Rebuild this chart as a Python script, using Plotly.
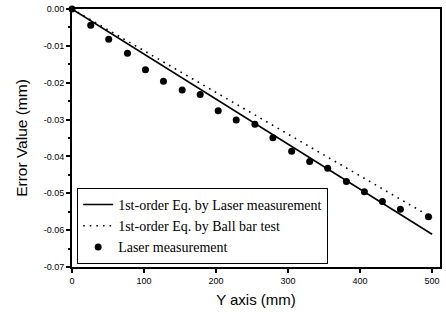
import plotly.graph_objects as go

# Laser measurement points (Y axis position in mm, error in mm)
laser_x = [0, 26, 51, 77, 102, 127, 153, 178, 203, 228, 254, 279, 305, 330, 355, 381, 406, 431, 456, 495]
laser_y = [0.0, -0.0044, -0.0082, -0.0120, -0.0165, -0.0196, -0.0220, -0.0232, -0.0276, -0.0301,
           -0.0313, -0.0349, -0.0386, -0.0414, -0.0432, -0.0468, -0.0496, -0.0522, -0.0543, -0.0564]

# First-order fits (end points)
fit_x = [0, 500]
fit_laser_y = [0.0, -0.0611]
fit_ballbar_y = [0.0, -0.0566]

x_tick_vals = [0, 100, 200, 300, 400, 500]
x_tick_text = ["0", "100", "200", "300", "400", "500"]
y_tick_vals = [0.0, -0.01, -0.02, -0.03, -0.04, -0.05, -0.06, -0.07]
y_tick_text = ["0.00", "-0.01", "-0.02", "-0.03", "-0.04", "-0.05", "-0.06", "-0.07"]

fig = go.Figure()
fig.add_trace(go.Scatter(x=fit_x, y=fit_laser_y, mode="lines",
                         line=dict(color="black", width=1.6),
                         name="1st-order Eq. by Laser measurement", cliponaxis=False))
fig.add_trace(go.Scatter(x=fit_x, y=fit_ballbar_y, mode="lines",
                         line=dict(color="black", width=1.6, dash="1.6px,5px"),
                         name="1st-order Eq. by Ball bar test", cliponaxis=False))
fig.add_trace(go.Scatter(x=laser_x, y=laser_y, mode="markers",
                         marker=dict(color="black", size=7),
                         name="Laser measurement", cliponaxis=False))

axis_common = dict(showline=True, linecolor="black", linewidth=2, mirror=True,
                   ticks="outside", ticklen=4, tickwidth=1.5, tickcolor="black",
                   showgrid=False, zeroline=False, automargin=False,
                   tickfont=dict(family="Liberation Sans, Arial", size=9, color="black"))

fig.update_layout(
    width=446, height=321,
    margin=dict(l=72, r=6, t=9, b=54),
    paper_bgcolor="white", plot_bgcolor="white",
    xaxis=dict(range=[0, 511], tickvals=x_tick_vals, ticktext=x_tick_text,
               title=dict(text="Y axis (mm)", font=dict(family="Liberation Sans, Arial", size=15, color="black"),
                          standoff=10),
               **axis_common),
    yaxis=dict(range=[-0.07, 0.0], tickvals=y_tick_vals, ticktext=y_tick_text,
               minor=dict(ticks="outside", ticklen=2, tickcolor="black", dtick=0.005, tick0=0),
               title=dict(text="Error Value (mm)", font=dict(family="Liberation Sans, Arial", size=15.5, color="black"),
                          standoff=12),
               **axis_common),
    legend=dict(x=0.014, y=0.012, xanchor="left", yanchor="bottom",
                bordercolor="black", borderwidth=1, bgcolor="white",
                font=dict(family="Liberation Serif, Times New Roman", size=14, color="black"),
                tracegroupgap=0, itemwidth=30),
    showlegend=True,
)

fig.write_html("out.html", config={"displayModeBar": False},
               post_script="document.body.style.margin='0px';")
